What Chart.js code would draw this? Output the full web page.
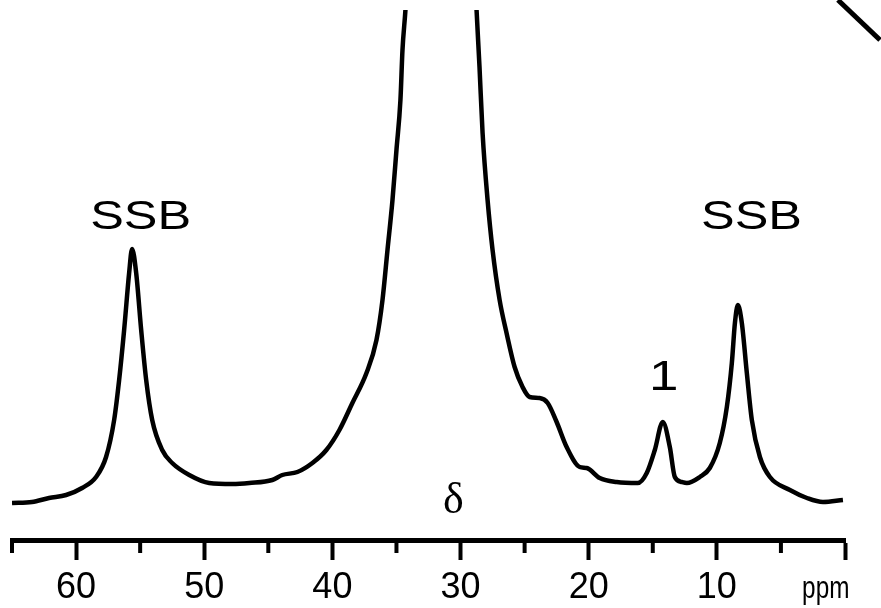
<!DOCTYPE html>
<html>
<head>
<meta charset="utf-8">
<title>13C NMR spectrum</title>
<script src="https://cdn.jsdelivr.net/npm/chart.js@4.4.1/dist/chart.umd.min.js"></script>
<style>
  body { margin: 0; background: #fff; }
  canvas { display: block; }
</style>
</head>
<body>
<canvas id="nmr-chart" width="881" height="608"></canvas>
<script>
// chemical shift (ppm) and intensity (arb. units)
const shift = [65.0, 63.44, 62.11, 60.78, 59.53, 58.44, 57.66, 57.03, 56.64, 56.25,
  55.86, 55.63, 55.31, 54.92, 54.53, 54.06, 53.28, 52.5, 51.17, 49.61,
  47.81, 46.48, 44.69, 43.91, 42.73, 41.56, 40.47, 39.45, 38.44, 37.34,
  36.56, 36.09, 35.7, 35.31, 35.0, 34.69, 34.53, 34.3, 33.59, 31.56,
  29.3, 28.75, 28.52, 28.28, 27.89, 27.5, 26.95, 26.41, 25.78, 25.16,
  24.61, 23.83, 23.2, 22.5, 21.72, 20.7, 20.16, 19.14, 17.81, 16.17,
  15.47, 14.84, 14.22, 13.67, 13.28, 12.73, 12.34, 11.33, 10.55, 9.77,
  9.22, 8.83, 8.59, 8.36, 8.05, 7.66, 7.27, 6.64, 5.86, 4.3,
  2.97, 1.72, 0.16];
const intensity = [37, 38, 42, 45, 52, 63, 83, 120, 160, 210,
  267, 291, 267, 210, 160, 120, 90, 77, 65, 57,
  56, 57, 60, 65, 68, 77, 90, 110, 137, 167,
  200, 240, 290, 340, 390, 440, 490, 530, 690, 1140,
  690, 530, 473, 407, 340, 290, 240, 207, 173, 153,
  143, 142, 137, 118, 93, 73, 72, 62, 58, 57,
  67, 90, 118, 93, 63, 58, 57, 63, 72, 97,
  133, 177, 217, 235, 217, 167, 120, 83, 63, 50,
  42, 38, 40];

// stray stroke from a cropped inset at the top right
const insetShift = [0.55, -2.73];
const insetIntensity = [540, 500];

const majorStep = 10;
const minorStep = 5;

// peak labels: [text, ppm, intensity at baseline]
const peakLabels = [
  ["SSB", 54.96, 311],
  ["SSB", 7.3, 311],
  ["1", 14.14, 150]
];

const spectrum = shift.map((s, i) => ({ x: s, y: intensity[i] }));
const inset = insetShift.map((s, i) => ({ x: s, y: insetIntensity[i] }));

function stretchedText(ctx, text, x, y, font, sx) {
  ctx.save();
  ctx.font = font;
  ctx.textAlign = "center";
  ctx.textBaseline = "alphabetic";
  ctx.translate(x, y);
  ctx.scale(sx, 1);
  ctx.fillText(text, 0, 0);
  ctx.restore();
}

// minor ticks and text labels on top of the spectrum
const extras = {
  id: "extras",
  afterDraw(chart) {
    const ctx = chart.ctx;
    const xs = chart.scales.x;
    const ys = chart.scales.y;
    const bottom = chart.chartArea.bottom;

    ctx.save();
    ctx.strokeStyle = "#000";
    ctx.lineWidth = 4;
    xs.ticks.forEach(t => {
      if (t.value % majorStep !== 0) {
        const px = xs.getPixelForValue(t.value);
        ctx.beginPath();
        ctx.moveTo(px, bottom);
        ctx.lineTo(px, bottom + 13);
        ctx.stroke();
      }
    });
    ctx.restore();

    ctx.fillStyle = "#000";
    peakLabels.forEach(l => {
      const size = l[0] === "1" ? 42 : 40;
      stretchedText(ctx, l[0], xs.getPixelForValue(l[1]), ys.getPixelForValue(l[2]),
        size + "px 'Liberation Sans', Arial, sans-serif", 1.26);
    });
    stretchedText(ctx, "\u03b4", xs.getPixelForValue(30.55), ys.getPixelForValue(27),
      "44px 'Liberation Serif', 'Times New Roman', serif", 1);
    stretchedText(ctx, "ppm", xs.getPixelForValue(1.5), bottom + 58,
      "32px 'Liberation Sans', Arial, sans-serif", 0.76);
  }
};

new Chart(document.getElementById("nmr-chart"), {
  type: "line",
  data: {
    datasets: [
      {
        label: "spectrum",
        data: spectrum,
        borderColor: "#000",
        borderWidth: 4.5,
        pointRadius: 0,
        fill: false,
        cubicInterpolationMode: "monotone",
        borderJoinStyle: "round"
      },
      {
        label: "inset",
        data: inset,
        borderColor: "#000",
        borderWidth: 5,
        pointRadius: 0,
        fill: false,
        clip: false
      }
    ]
  },
  options: {
    responsive: false,
    animation: false,
    layout: { padding: { left: 12, right: 36, top: 10, bottom: 0 } },
    plugins: {
      legend: { display: false },
      tooltip: { enabled: false }
    },
    scales: {
      x: {
        type: "linear",
        reverse: true,
        min: 0,
        max: 65,
        afterFit(scale) { scale.height = 68; },
        border: { display: true, color: "#000", width: 5 },
        grid: {
          drawOnChartArea: false,
          drawTicks: true,
          tickLength: 20,
          tickWidth: 4,
          tickColor: c => (c.tick && c.tick.value % majorStep === 0 ? "#000" : "rgba(0,0,0,0)")
        },
        ticks: {
          stepSize: minorStep,
          autoSkip: false,
          maxRotation: 0,
          padding: 6,
          color: "#000",
          font: { family: "'Liberation Sans', Arial, sans-serif", size: 36 },
          callback: v => (v % majorStep === 0 && v > 0 ? String(v) : "")
        }
      },
      y: {
        display: false,
        min: 0,
        max: 530
      }
    }
  },
  plugins: [extras]
});
</script>
</body>
</html>
